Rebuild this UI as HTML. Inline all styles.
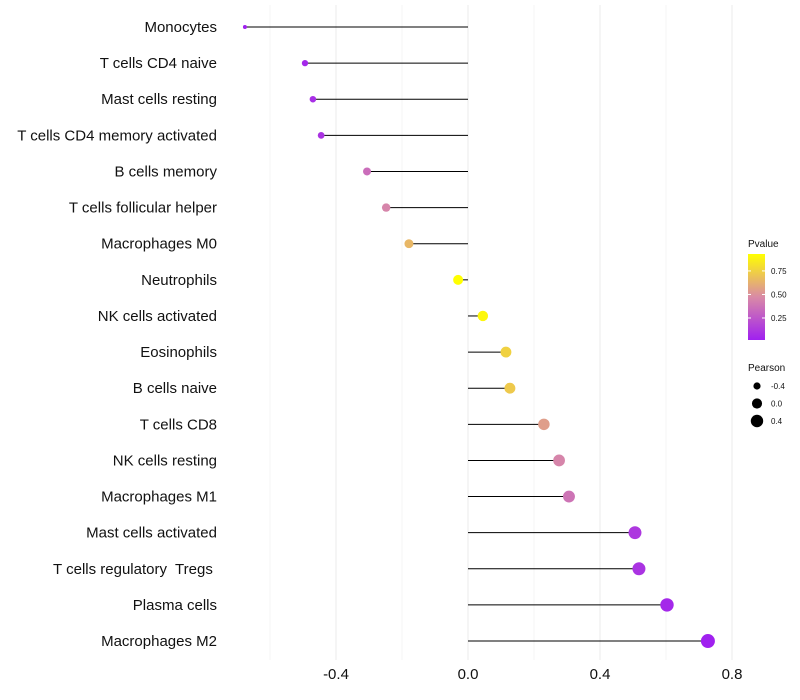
<!DOCTYPE html>
<html><head><meta charset="utf-8"><style>body{margin:0;background:#fff}svg{display:block;font-family:"Liberation Sans",sans-serif}text{white-space:pre}</style></head>
<body>
<svg id="c" width="800" height="700">
<defs><linearGradient id="g" x1="0" y1="1" x2="0" y2="0">
<stop offset="0" stop-color="#A020F0"/><stop offset="0.5" stop-color="#D98AA6"/><stop offset="1" stop-color="#FFFF00"/></linearGradient></defs>
</svg>
<script>
const categories=["Monocytes","T cells CD4 naive","Mast cells resting","T cells CD4 memory activated","B cells memory","T cells follicular helper","Macrophages M0","Neutrophils","NK cells activated","Eosinophils","B cells naive","T cells CD8","NK cells resting","Macrophages M1","Mast cells activated","T cells regulatory  Tregs ","Plasma cells","Macrophages M2"];
const pearson=[-0.676,-0.494,-0.47,-0.445,-0.306,-0.248,-0.179,-0.03,0.045,0.115,0.127,0.23,0.276,0.306,0.506,0.518,0.603,0.727];
const pvalue=[0.02,0.05,0.08,0.1,0.35,0.45,0.65,0.93,0.9,0.75,0.72,0.55,0.45,0.38,0.12,0.1,0.05,0.02];
const xTicks=[-0.4,0.0,0.4,0.8];
const xTickLabels=["-0.4","0.0","0.4","0.8"];
const legendP=[0.25,0.5,0.75];
const legendPearson=[-0.4,0.0,0.4];
const svg=document.getElementById('c');const NS='http://www.w3.org/2000/svg';
function mk(t,a,p){const e=document.createElementNS(NS,t);for(const k in a)e.setAttribute(k,a[k]);(p||svg).appendChild(e);return e;}
const X=v=>468+v*330, Y=i=>27+i*36.12;
const pMin=0.016,pMax=0.93;
function lerp(a,b,t){return a.map((v,i)=>Math.round(v+(b[i]-v)*t));}
function col(p){const t=Math.max(0,Math.min(1,(p-pMin)/(pMax-pMin)));const c=t<0.5?lerp([160,32,240],[217,138,166],t*2):lerp([217,138,166],[255,255,0],(t-0.5)*2);return `rgb(${c})`;}
const R=v=>Math.sqrt(Math.max(2,25.7+32.1*v));
for(let v=-0.6;v<=0.81;v+=0.2){const g=mk('line',{x1:X(v),x2:X(v),y1:5,y2:660,stroke:Math.abs(Math.round(v*10))%4==0?'#ebebeb':'#f4f4f4','stroke-width':1});
}
xTicks.forEach((v,i)=>{const t=mk('text',{x:X(v),y:679,'text-anchor':'middle','font-size':15,fill:'#111'});t.textContent=xTickLabels[i];
});
categories.forEach((c,i)=>{const y=Y(i);
const t=mk('text',{x:217,y:y+5,'text-anchor':'end','font-size':15,fill:'#111'});t.textContent=c;

const l=mk('line',{x1:X(0),x2:X(pearson[i]),y1:y,y2:y,stroke:'#000','stroke-width':1});

const d=mk('circle',{cx:X(pearson[i]),cy:y,r:R(pearson[i]),fill:col(pvalue[i])});
});
let t=mk('text',{x:748,y:247,'font-size':10,fill:'#111'});t.textContent='Pvalue';

const bar=mk('rect',{x:748,y:254,width:17,height:86,fill:'url(#g)'});

legendP.forEach(p=>{const y=340-(p-pMin)/(pMax-pMin)*86;
mk('line',{x1:748,x2:751,y1:y,y2:y,stroke:'#fff'});mk('line',{x1:762,x2:765,y1:y,y2:y,stroke:'#fff'});
const s=mk('text',{x:771,y:y+3,'font-size':8,fill:'#111'});s.textContent=p.toFixed(2);
});
t=mk('text',{x:748,y:371,'font-size':10,fill:'#111'});t.textContent='Pearson';

legendPearson.forEach((v,i)=>{const y=386+i*17.5;
const c=mk('circle',{cx:757,cy:y,r:R(v),fill:'#000'});
const s=mk('text',{x:771,y:y+3,'font-size':8,fill:'#111'});s.textContent=v.toFixed(1);
});
</script>
</body></html>
